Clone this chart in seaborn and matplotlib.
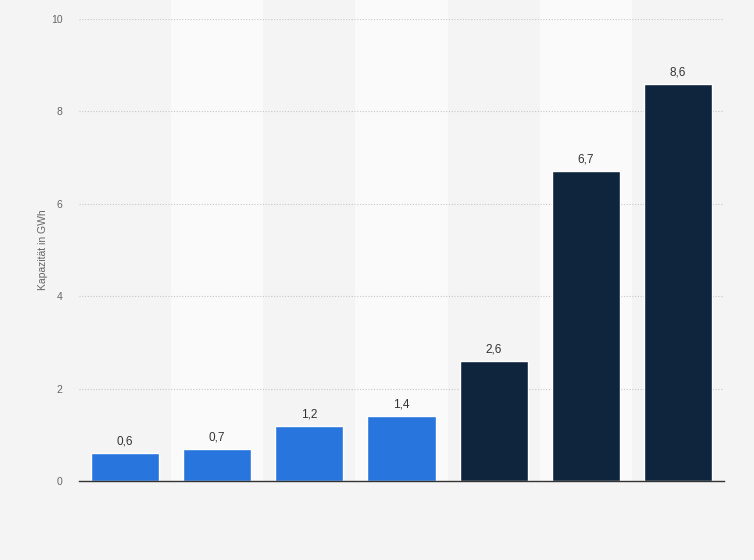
import matplotlib
matplotlib.use("Agg")
import matplotlib.pyplot as plt
import seaborn as sns
import pandas as pd

# values (categories carry no visible labels)
categories = ["A", "B", "C", "D", "E", "F", "G"]
values = [0.6, 0.7, 1.2, 1.4, 2.6, 6.7, 8.6]
labels = ["0,6", "0,7", "1,2", "1,4", "2,6", "6,7", "8,6"]
bar_colors = ["#2876dd"] * 4 + ["#0f253d"] * 3
yticks = [0, 2, 4, 6, 8, 10]

df = pd.DataFrame({"cat": categories, "val": values})

sns.set_theme(style="white")
plt.rcParams["font.family"] = ["Liberation Sans", "DejaVu Sans"]

fig = plt.figure(figsize=(7.54, 5.6), dpi=100)
fig.patch.set_facecolor("#f4f4f4")
ax = fig.add_axes([0.1048, 0.141, 0.8554, 0.825])
ax.set_facecolor("#f4f4f4")

# alternating light bands behind every second category
for i in range(len(categories)):
    if i % 2 == 1:
        ax.axvspan(i - 0.5, i + 0.5, ymin=0, ymax=1.05, color="#fafafa",
                   zorder=0, clip_on=False, lw=0)

sns.barplot(data=df, x="cat", y="val", hue="cat", palette=bar_colors,
            legend=False, width=0.74, ax=ax, zorder=3, saturation=1)

for i, (v, t) in enumerate(zip(values, labels)):
    ax.text(i, v + 0.12, t, ha="center", va="bottom", fontsize=8.5,
            color="#333333", zorder=4)

ax.set_xlim(-0.5, len(categories) - 0.5)
ax.set_ylim(0, 10)
ax.set_yticks(yticks)
ax.set_yticklabels([str(t) for t in yticks], fontsize=7.5, color="#666666")
ax.set_xticks([])
ax.set_xlabel("")
ax.set_ylabel("Kapazität in GWh", fontsize=7.5, color="#666666")
ax.yaxis.set_label_coords(-0.048, 0.5)
ax.tick_params(axis="y", length=0, pad=12)

ax.grid(axis="y", color="#c8c8c8", linestyle=(0, (1, 1.5)), lw=0.8, zorder=1)
ax.set_axisbelow(True)
for s in ["top", "right", "left"]:
    ax.spines[s].set_visible(False)
ax.spines["bottom"].set_color("#333333")
ax.spines["bottom"].set_linewidth(1.0)
ax.spines["bottom"].set_zorder(5)

fig.savefig("out.png", dpi=100, facecolor=fig.get_facecolor())
